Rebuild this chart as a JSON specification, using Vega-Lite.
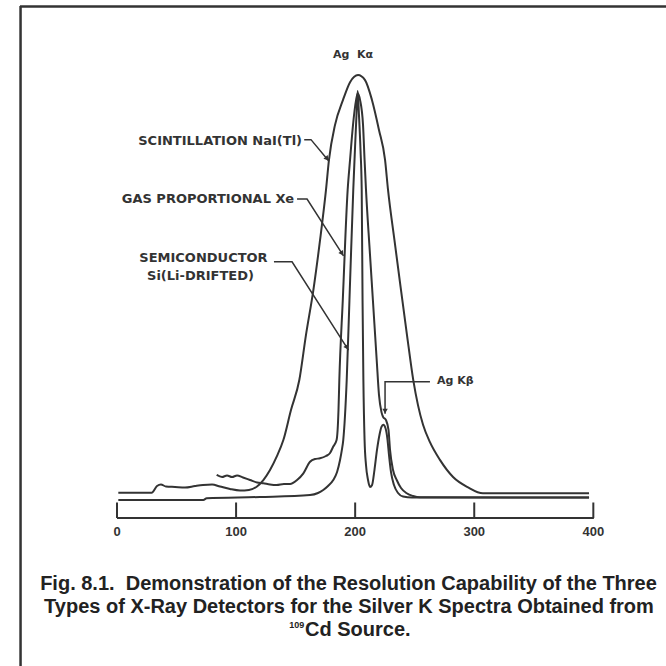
{
  "$schema": "https://vega.github.io/schema/vega-lite/v6.json",
  "width": 646,
  "height": 660,
  "autosize": "none",
  "padding": {"left": 20, "top": 6, "right": 0, "bottom": 0},
  "background": "white",
  "config": {"view": {"stroke": null}, "font": "Liberation Sans"},
  "datasets": {
    "curves": [
      {"d":"scint","x":1.1,"I":1.14},{"d":"scint","x":29.1,"I":1.14},{"d":"scint","x":33.6,"I":2.72},{"d":"scint","x":36.9,"I":3.08},{"d":"scint","x":41.1,"I":2.6},{"d":"scint","x":48.7,"I":2.49},{"d":"scint","x":57.1,"I":2.37},{"d":"scint","x":65.5,"I":2.72},{"d":"scint","x":72.2,"I":2.96},{"d":"scint","x":79.8,"I":3.08},{"d":"scint","x":86.5,"I":2.6},{"d":"scint","x":94.9,"I":2.01},{"d":"scint","x":103.3,"I":1.66},{"d":"scint","x":110.8,"I":1.78},{"d":"scint","x":117.3,"I":2.56},{"d":"scint","x":122.9,"I":4.14},{"d":"scint","x":128.5,"I":6.51},{"d":"scint","x":134.1,"I":9.66},{"d":"scint","x":139.7,"I":13.6},{"d":"scint","x":146.1,"I":20.7},{"d":"scint","x":153.1,"I":27.8},{"d":"scint","x":158.7,"I":38.5},{"d":"scint","x":164.9,"I":49.1},{"d":"scint","x":170.5,"I":60.9},{"d":"scint","x":175.5,"I":72.8},{"d":"scint","x":178.0,"I":79.9},{"d":"scint","x":183.1,"I":88.2},{"d":"scint","x":189.8,"I":94.1},{"d":"scint","x":195.7,"I":98.3},{"d":"scint","x":202.4,"I":100},{"d":"scint","x":208.3,"I":98.8},{"d":"scint","x":214.1,"I":94.1},{"d":"scint","x":220.0,"I":87.0},{"d":"scint","x":225.1,"I":79.9},{"d":"scint","x":227.6,"I":72.8},{"d":"scint","x":233.0,"I":60.9},{"d":"scint","x":238.5,"I":49.1},{"d":"scint","x":243.5,"I":38.5},{"d":"scint","x":248.8,"I":27.8},{"d":"scint","x":252.8,"I":21.8},{"d":"scint","x":257.0,"I":17.2},{"d":"scint","x":262.8,"I":13.1},{"d":"scint","x":271.2,"I":8.9},{"d":"scint","x":282.2,"I":4.85},{"d":"scint","x":294.8,"I":2.4},{"d":"scint","x":307.3,"I":0.99},{"d":"scint","x":396.4,"I":0.99},
      {"d":"gas","x":83.7,"I":5.33},{"d":"gas","x":88.2,"I":4.85},{"d":"gas","x":92.4,"I":5.21},{"d":"gas","x":96.6,"I":4.85},{"d":"gas","x":100.8,"I":5.21},{"d":"gas","x":105.8,"I":4.73},{"d":"gas","x":111.7,"I":4.14},{"d":"gas","x":117.6,"I":3.55},{"d":"gas","x":122.9,"I":3.36},{"d":"gas","x":128.5,"I":3.08},{"d":"gas","x":134.1,"I":2.96},{"d":"gas","x":140.2,"I":3.2},{"d":"gas","x":145.3,"I":3.2},{"d":"gas","x":151.2,"I":4.14},{"d":"gas","x":156.5,"I":5.73},{"d":"gas","x":162.1,"I":8.47},{"d":"gas","x":166.3,"I":9.11},{"d":"gas","x":170.5,"I":9.28},{"d":"gas","x":175.5,"I":9.82},{"d":"gas","x":178.9,"I":10.53},{"d":"gas","x":181.4,"I":11.95},{"d":"gas","x":184.4,"I":13.6},{"d":"gas","x":186.0,"I":20.7},{"d":"gas","x":186.7,"I":27.8},{"d":"gas","x":189.6,"I":46.7},{"d":"gas","x":193.7,"I":72.8},{"d":"gas","x":195.7,"I":79.9},{"d":"gas","x":198.2,"I":88.2},{"d":"gas","x":200.8,"I":94.1},{"d":"gas","x":202.2,"I":95.7},{"d":"gas","x":204.1,"I":94.1},{"d":"gas","x":206.6,"I":88.2},{"d":"gas","x":207.9,"I":79.9},{"d":"gas","x":209.1,"I":72.8},{"d":"gas","x":212.2,"I":58.6},{"d":"gas","x":214.9,"I":46.7},{"d":"gas","x":218.1,"I":32.5},{"d":"gas","x":220.0,"I":24.3},{"d":"gas","x":222.1,"I":20.2},{"d":"gas","x":223.4,"I":19.1},{"d":"gas","x":225.9,"I":18.3},{"d":"gas","x":228.0,"I":16.0},{"d":"gas","x":229.3,"I":11.2},{"d":"gas","x":231.8,"I":6.5},{"d":"gas","x":234.9,"I":4.14},{"d":"gas","x":238.5,"I":2.25},{"d":"gas","x":243.3,"I":1.0},{"d":"gas","x":248.6,"I":0.36},{"d":"gas","x":254.5,"I":0.05},{"d":"gas","x":396.4,"I":0},
      {"d":"semi","x":1.1,"I":-0.59},{"d":"semi","x":72.5,"I":-0.59},{"d":"semi","x":75.3,"I":-0.19},{"d":"semi","x":120.1,"I":0.12},{"d":"semi","x":162.1,"I":0.59},{"d":"semi","x":168.8,"I":1.07},{"d":"semi","x":173.2,"I":1.78},{"d":"semi","x":177.2,"I":2.72},{"d":"semi","x":181.6,"I":4.14},{"d":"semi","x":184.8,"I":6.04},{"d":"semi","x":187.3,"I":8.88},{"d":"semi","x":188.8,"I":11.2},{"d":"semi","x":190.0,"I":13.6},{"d":"semi","x":192.9,"I":27.8},{"d":"semi","x":195.2,"I":46.7},{"d":"semi","x":198.4,"I":72.8},{"d":"semi","x":199.8,"I":82.2},{"d":"semi","x":201.1,"I":90.5},{"d":"semi","x":202.1,"I":96.2},{"d":"semi","x":203.2,"I":90.5},{"d":"semi","x":204.5,"I":82.2},{"d":"semi","x":205.5,"I":72.8},{"d":"semi","x":206.2,"I":46.7},{"d":"semi","x":206.9,"I":27.8},{"d":"semi","x":207.9,"I":13.6},{"d":"semi","x":209.1,"I":7.7},{"d":"semi","x":210.8,"I":4.14},{"d":"semi","x":212.5,"I":2.49},{"d":"semi","x":214.2,"I":2.96},{"d":"semi","x":216.2,"I":6.5},{"d":"semi","x":218.3,"I":11.2},{"d":"semi","x":220.4,"I":14.8},{"d":"semi","x":222.1,"I":16.7},{"d":"semi","x":223.6,"I":17.2},{"d":"semi","x":225.5,"I":16.4},{"d":"semi","x":227.2,"I":13.6},{"d":"semi","x":228.4,"I":10.1},{"d":"semi","x":230.1,"I":6.0},{"d":"semi","x":232.6,"I":2.96},{"d":"semi","x":236.0,"I":1.07},{"d":"semi","x":240.2,"I":0.24},{"d":"semi","x":247.7,"I":0},{"d":"semi","x":396.4,"I":0}
    ],
    "leaders": [
      {"id":"scint","seq":1,"x":157.2,"I":84.7},{"id":"scint","seq":2,"x":162.9,"I":84.7},{"id":"scint","seq":3,"x":178.0,"I":79.6},
      {"id":"gas","seq":1,"x":151.2,"I":70.65},{"id":"gas","seq":2,"x":159.6,"I":70.65},{"id":"gas","seq":3,"x":190.2,"I":57.2},
      {"id":"semi","seq":1,"x":131.8,"I":55.8},{"id":"semi","seq":2,"x":147.0,"I":55.8},{"id":"semi","seq":3,"x":194.4,"I":34.9},
      {"id":"kb","seq":1,"x":262.8,"I":27.4},{"id":"kb","seq":2,"x":225.1,"I":27.4},{"id":"kb","seq":3,"x":225.1,"I":19.8}
    ],
    "arrows": [
      {"id":"scint","x":176.4,"I":80.19},
      {"id":"gas","x":188.9,"I":57.75},
      {"id":"semi","x":193.1,"I":35.5},
      {"id":"kb","x":225.1,"I":20.47}
    ],
    "ticks": [{"x":0},{"x":100},{"x":200},{"x":300},{"x":400}],
    "labelsRight": [
      {"t":"SCINTILLATION NaI(Tl)","x":155.4,"I":84.38},
      {"t":"GAS PROPORTIONAL Xe","x":148.6,"I":70.65}
    ],
    "labelsCenter": [
      {"t":"SEMICONDUCTOR","x":72.6,"I":56.69},
      {"t":"Si(Li-DRIFTED)","x":70.1,"I":52.43}
    ],
    "peakA": [{"t":"Ag\u00a0 Kα","x":198.2,"I":104.73}],
    "peakB": [{"t":"Ag Kβ","x":268.7,"I":27.57}],
    "caption": [
      {"t":"Fig. 8.1.\u00a0 Demonstration of the Resolution Capability of the Three","x":194.4,"I":-22.01},
      {"t":"Types of X-Ray Detectors for the Silver K Spectra Obtained from","x":194.8,"I":-27.34}
    ],
    "captionLeft": [
      {"t":"Cd Source.","x":157.9,"I":-32.78}
    ],
    "superscript": [
      {"t":"109","x":157.3,"I":-30.2}
    ]
  },
  "layer": [
    {
      "data": {"name": "curves"},
      "mark": {"type": "line", "color": "#333", "strokeWidth": 2, "interpolate": "monotone"},
      "encoding": {
        "x": {"field": "x", "type": "quantitative",
              "scale": {"domain": [-81.46, 461.03], "nice": false, "zero": false}, "axis": null},
        "y": {"field": "I", "type": "quantitative",
              "scale": {"domain": [-39.88, 116.33], "nice": false, "zero": false}, "axis": null},
        "detail": {"field": "d"}
      }
    },
    {
      "data": {"values": [{}]},
      "mark": {"type": "rule", "color": "#333", "strokeWidth": 2.5},
      "encoding": {"x": {"datum": -81.0, "axis": null}, "y": {"datum": -39.88, "axis": null}, "y2": {"datum": 116.33}}
    },
    {
      "data": {"values": [{}]},
      "mark": {"type": "rule", "color": "#333", "strokeWidth": 2.5},
      "encoding": {"y": {"datum": 116.2, "axis": null}, "x": {"datum": -81.46, "axis": null}, "x2": {"datum": 461.03}}
    },
    {
      "data": {"name": "ticks"},
      "mark": {"type": "rule", "color": "#333", "strokeWidth": 2},
      "encoding": {"x": {"field": "x", "type": "quantitative", "axis": null}, "y": {"datum": -4.85, "axis": null}, "y2": {"datum": -1.18}}
    },
    {
      "data": {"name": "ticks"},
      "mark": {"type": "rule", "color": "#333", "strokeWidth": 2},
      "encoding": {"x": {"datum": 0, "axis": null}, "x2": {"datum": 400}, "y": {"datum": -4.85, "axis": null}}
    },
    {
      "data": {"name": "ticks"},
      "mark": {"type": "text", "align": "center", "baseline": "middle", "fontSize": 13, "fontWeight": "bold", "color": "#333", "font": "Liberation Sans"},
      "encoding": {"x": {"field": "x", "type": "quantitative", "axis": null}, "y": {"datum": -8.17, "axis": null}, "text": {"field": "x", "type": "quantitative", "format": "d"}}
    },
    {
      "data": {"name": "leaders"},
      "mark": {"type": "line", "color": "#333", "strokeWidth": 1.5},
      "encoding": {
        "x": {"field": "x", "type": "quantitative", "axis": null},
        "y": {"field": "I", "type": "quantitative", "axis": null},
        "detail": {"field": "id"},
        "order": {"field": "seq"}
      }
    },
    {
      "data": {"name": "arrows"},
      "transform": [{"filter": "datum.id === 'scint'"}],
      "mark": {"type": "point", "shape": "triangle-down", "filled": true, "color": "#333", "opacity": 1, "size": 30, "angle": -40},
      "encoding": {"x": {"field": "x", "type": "quantitative", "axis": null}, "y": {"field": "I", "type": "quantitative", "axis": null}}
    },
    {
      "data": {"name": "arrows"},
      "transform": [{"filter": "datum.id === 'gas' || datum.id === 'semi'"}],
      "mark": {"type": "point", "shape": "triangle-down", "filled": true, "color": "#333", "opacity": 1, "size": 30, "angle": -33},
      "encoding": {"x": {"field": "x", "type": "quantitative", "axis": null}, "y": {"field": "I", "type": "quantitative", "axis": null}}
    },
    {
      "data": {"name": "arrows"},
      "transform": [{"filter": "datum.id === 'kb'"}],
      "mark": {"type": "point", "shape": "triangle-down", "filled": true, "color": "#333", "opacity": 1, "size": 30},
      "encoding": {"x": {"field": "x", "type": "quantitative", "axis": null}, "y": {"field": "I", "type": "quantitative", "axis": null}}
    },
    {
      "data": {"name": "labelsRight"},
      "mark": {"type": "text", "align": "right", "baseline": "middle", "fontSize": 13, "fontWeight": "bold", "color": "#333", "font": "DejaVu Sans"},
      "encoding": {"x": {"field": "x", "type": "quantitative", "axis": null}, "y": {"field": "I", "type": "quantitative", "axis": null}, "text": {"field": "t"}}
    },
    {
      "data": {"name": "labelsCenter"},
      "mark": {"type": "text", "align": "center", "baseline": "middle", "fontSize": 13, "fontWeight": "bold", "color": "#333", "font": "DejaVu Sans"},
      "encoding": {"x": {"field": "x", "type": "quantitative", "axis": null}, "y": {"field": "I", "type": "quantitative", "axis": null}, "text": {"field": "t"}}
    },
    {
      "data": {"name": "peakA"},
      "mark": {"type": "text", "align": "center", "baseline": "middle", "fontSize": 11, "fontWeight": "bold", "color": "#333", "font": "DejaVu Sans"},
      "encoding": {"x": {"field": "x", "type": "quantitative", "axis": null}, "y": {"field": "I", "type": "quantitative", "axis": null}, "text": {"field": "t"}}
    },
    {
      "data": {"name": "peakB"},
      "mark": {"type": "text", "align": "left", "baseline": "middle", "fontSize": 11, "fontWeight": "bold", "color": "#333", "font": "DejaVu Sans"},
      "encoding": {"x": {"field": "x", "type": "quantitative", "axis": null}, "y": {"field": "I", "type": "quantitative", "axis": null}, "text": {"field": "t"}}
    },
    {
      "data": {"name": "caption"},
      "mark": {"type": "text", "align": "center", "baseline": "alphabetic", "fontSize": 20, "fontWeight": "bold", "color": "#222", "font": "Liberation Sans"},
      "encoding": {"x": {"field": "x", "type": "quantitative", "axis": null}, "y": {"field": "I", "type": "quantitative", "axis": null}, "text": {"field": "t"}}
    },
    {
      "data": {"name": "captionLeft"},
      "mark": {"type": "text", "align": "left", "baseline": "alphabetic", "fontSize": 20, "fontWeight": "bold", "color": "#222", "font": "Liberation Sans"},
      "encoding": {"x": {"field": "x", "type": "quantitative", "axis": null}, "y": {"field": "I", "type": "quantitative", "axis": null}, "text": {"field": "t"}}
    },
    {
      "data": {"name": "superscript"},
      "mark": {"type": "text", "align": "right", "baseline": "middle", "fontSize": 9, "fontWeight": "bold", "color": "#222", "font": "Liberation Sans"},
      "encoding": {"x": {"field": "x", "type": "quantitative", "axis": null}, "y": {"field": "I", "type": "quantitative", "axis": null}, "text": {"field": "t"}}
    }
  ]
}
